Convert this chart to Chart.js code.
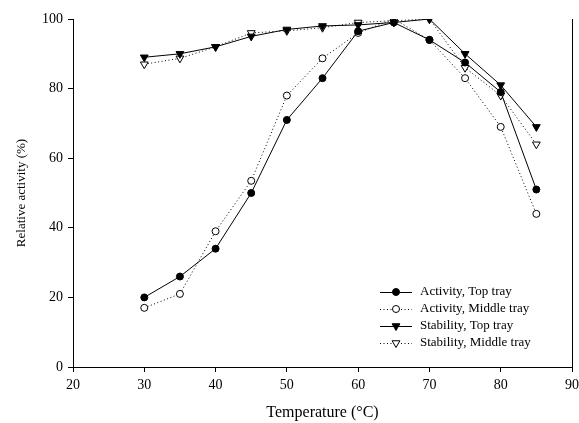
<!DOCTYPE html>
<html>
<head>
<meta charset="utf-8">
<script src="https://cdn.jsdelivr.net/npm/chart.js@4/dist/chart.umd.min.js"></script>
<style>
html,body{margin:0;padding:0;background:#fff;}
#wrap{width:579px;height:423px;}
</style>
</head>
<body>
<div id="wrap"><canvas id="c" width="579" height="423"></canvas></div>
<script>
const temperatures = [30, 35, 40, 45, 50, 55, 60, 65, 70, 75, 80, 85];
const activityTop = [20, 26, 34, 50, 71, 83, 96.5, 99, 94, 87.5, 79, 51];
const activityMiddle = [17, 21, 39, 53.5, 78, 88.7, 96, 100, 94, 83, 69, 44];
const stabilityTop = [89, 90, 92, 95, 97, 98, 98.3, 99, 100, 90, 81, 69];
const stabilityMiddle = [87, 88.7, 92, 96, 96.6, 97.5, 99, 99.5, 100, 86, 78, 64];
const seriesNames = ['Activity, Top tray', 'Activity, Middle tray', 'Stability, Top tray', 'Stability, Middle tray'];
const xTicks = [20, 30, 40, 50, 60, 70, 80, 90];
const yTicks = [0, 20, 40, 60, 80, 100];

const toPts = arr => arr.map((v, i) => ({x: temperatures[i], y: v}));
const serif = "'Liberation Serif', 'Times New Roman', serif";

function ds(label, data, style, filled, dashed) {
  return {
    label, data: toPts(data),
    borderColor: '#000', borderWidth: 1,
    borderDash: dashed ? [1, 2.5] : [],
    pointStyle: style,
    rotation: style === 'triangle' ? 180 : 0,
    pointRadius: style === 'triangle' ? 4.5 : 3.5,
    pointBackgroundColor: filled ? '#000' : '#fff',
    pointBorderColor: '#000', pointBorderWidth: 1,
    tension: 0, fill: false
  };
}

const datasets = [
  ds(seriesNames[0], activityTop, 'circle', true, false),
  ds(seriesNames[1], activityMiddle, 'circle', false, true),
  ds(seriesNames[2], stabilityTop, 'triangle', true, false),
  ds(seriesNames[3], stabilityMiddle, 'triangle', false, true)
];

const legendPlugin = {
  id: 'innerLegend',
  afterDatasetsDraw(chart) {
    const ctx = chart.ctx, ca = chart.chartArea;
    ctx.save();
    chart.data.datasets.forEach((d, i) => {
      const y = ca.bottom - 75 + i * 17;
      const x0 = ca.right - 192, x1 = ca.right - 160;
      ctx.strokeStyle = '#000'; ctx.lineWidth = 1;
      ctx.setLineDash(d.borderDash);
      ctx.beginPath(); ctx.moveTo(x0, y + 0.5); ctx.lineTo(x1, y + 0.5); ctx.stroke();
      ctx.setLineDash([]);
      ctx.fillStyle = d.pointBackgroundColor;
      Chart.helpers.drawPoint(ctx, {pointStyle: d.pointStyle, rotation: d.rotation, radius: d.pointRadius, borderWidth: 1}, (x0 + x1) / 2, y);
      ctx.fillStyle = '#000';
      ctx.font = '13px ' + serif;
      ctx.textBaseline = 'middle'; ctx.textAlign = 'left';
      ctx.fillText(d.label, ca.right - 152, y);
    });
    ctx.restore();
  },
  afterDraw(chart) {
    const ctx = chart.ctx, ca = chart.chartArea;
    ctx.save();
    ctx.strokeStyle = '#000'; ctx.lineWidth = 1;
    ctx.beginPath(); ctx.moveTo(Math.round(ca.right) + 0.5, ca.top); ctx.lineTo(Math.round(ca.right) + 0.5, ca.bottom); ctx.stroke();
    ctx.restore();
  }
};

new Chart(document.getElementById('c'), {
  type: 'line',
  data: {datasets},
  options: {
    responsive: false, animation: false, devicePixelRatio: 1,
    layout: {padding: {top: 19, right: 7, left: 0, bottom: 0}},
    plugins: {legend: {display: false}, tooltip: {enabled: false}},
    scales: {
      x: {
        type: 'linear', min: 20, max: 90,
        afterBuildTicks: s => { s.ticks = xTicks.map(v => ({value: v})); },
        afterFit: s => { s.height = 56; s.paddingRight = 0; s.paddingLeft = 0; },
        border: {display: true, color: '#000', width: 1},
        grid: {drawOnChartArea: false, drawTicks: true, tickLength: 5, color: '#000'},
        ticks: {color: '#000', padding: 5, maxRotation: 0, font: {family: serif, size: 14}},
        title: {display: true, text: 'Temperature (°C)', color: '#000', font: {family: serif, size: 16}, padding: {top: 0, bottom: 1}}
      },
      y: {
        type: 'linear', min: 0, max: 100,
        afterBuildTicks: s => { s.ticks = yTicks.map(v => ({value: v})); },
        afterFit: s => { s.width = 73; s.paddingTop = 0; s.paddingBottom = 0; },
        border: {display: true, color: '#000', width: 1},
        grid: {drawOnChartArea: false, drawTicks: true, tickLength: 5, color: '#000'},
        ticks: {color: '#000', padding: 5, font: {family: serif, size: 14}},
        title: {display: true, text: 'Relative activity (%)', color: '#000', font: {family: serif, size: 13}, padding: {top: 14, bottom: 0}}
      }
    }
  },
  plugins: [legendPlugin]
});
</script>
</body>
</html>
